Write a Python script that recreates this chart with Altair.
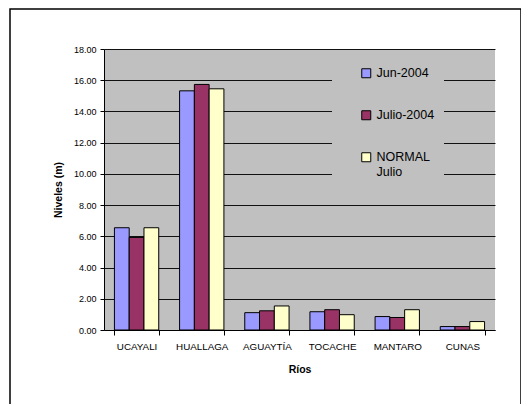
import altair as alt
import pandas as pd

rivers = ["UCAYALI", "HUALLAGA", "AGUAYTÍA", "TOCACHE", "MANTARO", "CUNAS"]
series = ["Jun-2004", "Julio-2004", "NORMAL Julio"]
jun_2004 = [6.55, 15.32, 1.11, 1.17, 0.86, 0.22]
julio_2004 = [5.93, 15.73, 1.23, 1.30, 0.80, 0.22]
normal_julio = [6.55, 15.45, 1.54, 0.98, 1.30, 0.54]
colors = ["#9999FF", "#993366", "#FFFFCC"]

rows = []
for name, vals in zip(series, [jun_2004, julio_2004, normal_julio]):
    for r, v in zip(rivers, vals):
        rows.append({"Río": r, "Serie": name, "Nivel": v})
df = pd.DataFrame(rows)

FONT = "Liberation Sans"

bars = alt.Chart(df).mark_bar(stroke="black", strokeWidth=1).encode(
    x=alt.X("Río:N", sort=rivers,
            scale=alt.Scale(paddingInner=0.32, paddingOuter=0.16),
            axis=alt.Axis(title="Ríos", labelAngle=0, tickBand="extent",
                          labelFontSize=9.8, labelFont=FONT, labelColor="black",
                          labelPadding=6, tickSize=5, tickColor="black",
                          domainColor="black", titleFont=FONT, titleFontSize=10.5,
                          titleFontWeight="bold", titleColor="black", titlePadding=14)),
    xOffset=alt.XOffset("Serie:N", sort=series, scale=alt.Scale(paddingInner=0, paddingOuter=0)),
    y=alt.Y("Nivel:Q", scale=alt.Scale(domain=[0, 18]),
            axis=alt.Axis(title="Niveles (m)", values=list(range(0, 19, 2)), format=".2f",
                          labelFontSize=9, labelFont=FONT, labelColor="black",
                          labelPadding=4, tickSize=4, tickColor="black",
                          domainColor="black", gridColor="#111111", gridWidth=1,
                          titleFont=FONT, titleFontSize=10.5, titleFontWeight="bold",
                          titleColor="black", titlePadding=10)),
    color=alt.Color("Serie:N", sort=series,
                    scale=alt.Scale(domain=series, range=colors),
                    legend=alt.Legend(title=None, orient="none", legendX=228, legendY=10,
                                      symbolType="square", symbolSize=81,
                                      symbolStrokeColor="black", symbolStrokeWidth=1,
                                      symbolOffset=20, labelOffset=4,
                                      labelFont=FONT, labelFontSize=12.5, labelColor="black",
                                      labelExpr="datum.label == 'NORMAL Julio' ? ['NORMAL', 'Julio'] : datum.label",
                                      labelBaseline="middle",
                                      rowPadding=28, padding=8,
                                      fillColor="#C0C0C0", strokeColor="#C0C0C0")),
)

border = alt.Chart(alt.Data(values=[{}])).mark_rect(
    fill=None, stroke="black", strokeWidth=1.5
).encode(
    x=alt.value(-94), x2=alt.value(417), y=alt.value(-40), y2=alt.value(370)
)

chart = alt.layer(bars, border).properties(
    width=391, height=281,
    autosize=alt.AutoSizeParams(type="none"),
    padding={"left": 96, "top": 41, "right": 26, "bottom": 74},
    background="white",
).configure_view(fill="#C0C0C0", stroke=None)

chart.save("out.html", embed_options={"renderer": "svg", "actions": False})
